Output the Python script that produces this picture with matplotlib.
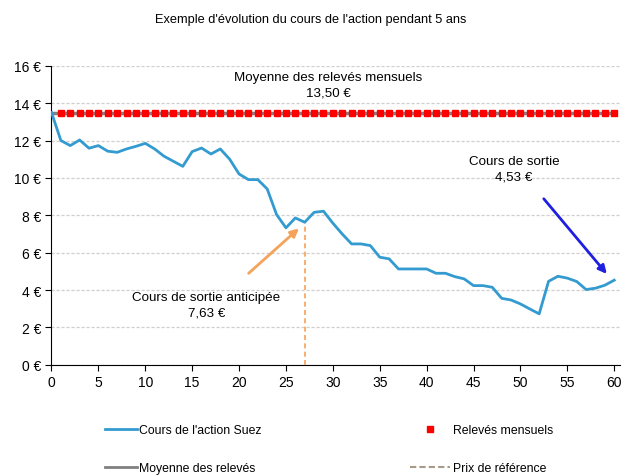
import matplotlib
matplotlib.use("Agg")
import matplotlib.pyplot as plt
from matplotlib import font_manager
from matplotlib.lines import Line2D

names = {f.name for f in font_manager.fontManager.ttflist}
fam = "Liberation Sans Narrow" if "Liberation Sans Narrow" in names else "Liberation Sans"
plt.rcParams['font.family'] = [fam, 'DejaVu Sans']

months = list(range(0, 61))
prix = [13.5, 12.0, 11.73, 12.03, 11.59, 11.73, 11.43, 11.37, 11.55, 11.69,
        11.85, 11.55, 11.16, 10.89, 10.62, 11.41, 11.6, 11.28, 11.55, 11.0,
        10.21, 9.91, 9.91, 9.41, 8.04, 7.33, 7.86, 7.63, 8.16, 8.22,
        7.58, 7.0, 6.47, 6.47, 6.38, 5.76, 5.67, 5.13, 5.13, 5.13,
        5.13, 4.9, 4.9, 4.72, 4.6, 4.24, 4.24, 4.15, 3.56, 3.47,
        3.26, 2.99, 2.73, 4.47, 4.74, 4.64, 4.46, 4.03, 4.1, 4.26, 4.53]
releves_x = list(range(1, 61))
moyenne = 13.50
mois_sortie_anticipee = 27
cours_sortie_anticipee = 7.63
cours_sortie = 4.53
yticks = [0, 2, 4, 6, 8, 10, 12, 14, 16]
xticks = [0, 5, 10, 15, 20, 25, 30, 35, 40, 45, 50, 55, 60]

fig = plt.figure(figsize=(6.28, 4.77), dpi=100)
ax = fig.add_axes([0.082, 0.233, 0.905, 0.627])

ax.plot([months[0], months[-1]], [moyenne, moyenne], color='#808080', lw=2.5, zorder=2)
ax.plot(releves_x, [moyenne] * len(releves_x), 's', color='#ff0000', ms=4.6, zorder=3, lw=0)
ax.plot(months, prix, color='#339bd0', lw=2, zorder=4)
ax.plot([mois_sortie_anticipee, mois_sortie_anticipee], [0, cours_sortie_anticipee],
        color='#f5a35a', lw=1.2, ls=(0, (3, 2)), zorder=3)

ax.set_xlim(0, 60.6)
ax.set_ylim(0, 16)
ax.set_yticks(yticks)
ax.set_yticklabels([f"{v} €" for v in yticks])
ax.set_xticks(xticks)
ax.tick_params(labelsize=10, length=4, direction='out', colors='black')
ax.yaxis.grid(True, color='#cfcfcf', ls=(0, (2.5, 1.5)), lw=0.9)
ax.set_axisbelow(True)
for s in ['top', 'right']:
    ax.spines[s].set_visible(False)
ax.spines['left'].set_color('black')
ax.spines['bottom'].set_color('black')

fig.text(0.494, 0.958, "Exemple d'évolution du cours de l'action pendant 5 ans",
         ha='center', va='center', fontsize=9.2)

ax.text(29.5, 15.0, "Moyenne des relevés mensuels\n13,50 €", ha='center', va='center',
        fontsize=9.6, linespacing=1.4)
ax.text(16.5, 3.2, "Cours de sortie anticipée\n7,63 €", ha='center', va='center',
        fontsize=9.6, linespacing=1.4)
ax.text(49.3, 10.5, "Cours de sortie\n4,53 €", ha='center', va='center',
        fontsize=9.6, linespacing=1.4)

ax.annotate("", xy=(26.6, 7.4), xytext=(20.8, 4.8),
            arrowprops=dict(arrowstyle='-|>', color='#f5a35a', lw=2, mutation_scale=12))
ax.annotate("", xy=(59.4, 4.75), xytext=(52.3, 9.0),
            arrowprops=dict(arrowstyle='-|>', color='#1f1fe0', lw=2, mutation_scale=12))

h1 = [Line2D([], [], color='#339bd0', lw=2),
      Line2D([], [], color='#808080', lw=2)]
l1 = ["Cours de l'action Suez", "Moyenne des relevés"]
h2 = [Line2D([], [], color='#ff0000', marker='s', ms=5, lw=0),
      Line2D([], [], color='#a89a8a', lw=1.5, ls=(0, (3, 1.5)))]
l2 = ["Relevés mensuels", "Prix de référence"]
leg1 = fig.legend(h1, l1, loc='center left', bbox_to_anchor=(0.167, 0.0566),
                  frameon=False, fontsize=8.8, handlelength=2.6, handletextpad=0.2,
                  labelspacing=2.1, borderpad=0, borderaxespad=0)
leg2 = fig.legend(h2, l2, loc='center left', bbox_to_anchor=(0.653, 0.0566),
                  frameon=False, fontsize=8.8, handlelength=3.3, handletextpad=0.2,
                  labelspacing=2.1, borderpad=0, borderaxespad=0)

fig.savefig("out.png", dpi=100)
